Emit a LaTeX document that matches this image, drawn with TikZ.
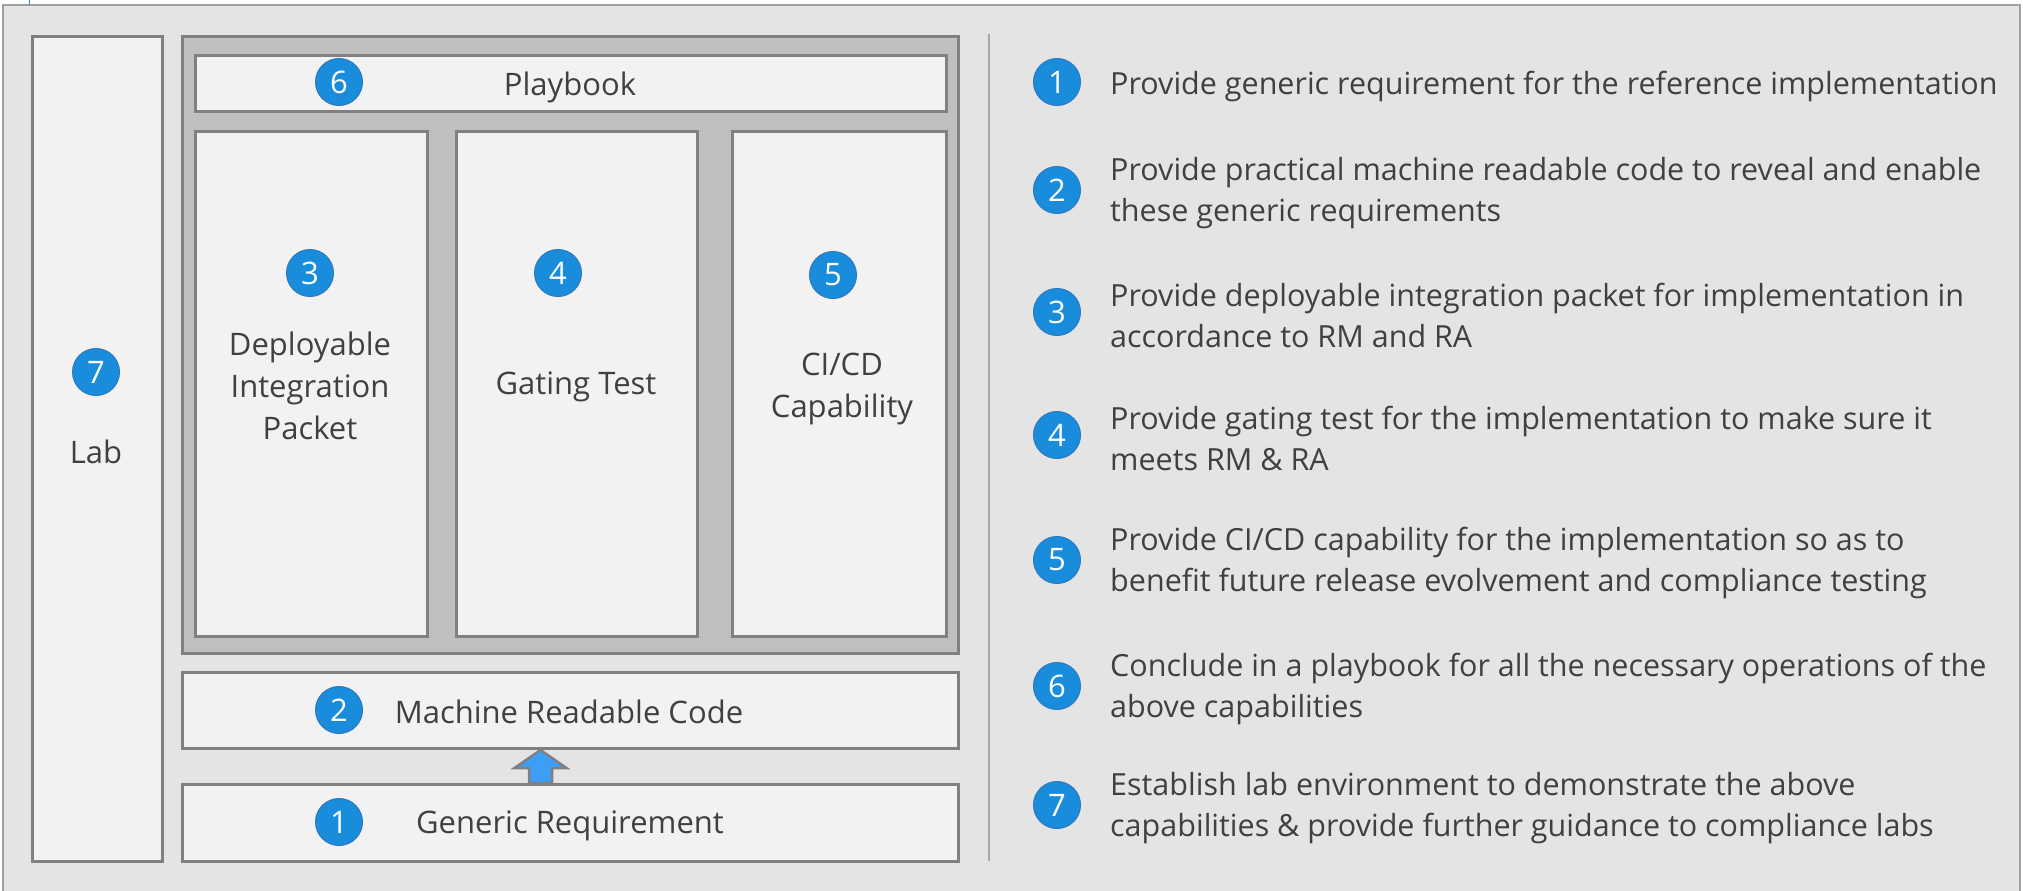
\documentclass[tikz,border=0pt]{standalone}
\usepackage{fontspec}
\setmainfont{Open Sans}
\usetikzlibrary{calc}
\definecolor{bgfill}{HTML}{E4E4E4}
\definecolor{bgdraw}{HTML}{A0A0A0}
\definecolor{contfill}{HTML}{BFBFBF}
\definecolor{boxfill}{HTML}{F2F2F2}
\definecolor{boxdraw}{HTML}{808080}
\definecolor{numblue}{HTML}{1A8CDC}
\definecolor{numedge}{HTML}{2F78BE}
\definecolor{txt}{HTML}{404040}
\definecolor{arrowblue}{HTML}{3D9EF5}
\definecolor{divline}{HTML}{A6A6A6}
\tikzset{
  boxstyle/.style={draw=boxdraw, fill=boxfill, line width=3pt, inner sep=0pt, anchor=north west},
  contstyle/.style={draw=boxdraw, fill=contfill, line width=3pt, inner sep=0pt, anchor=north west},
  numcirc/.style={circle, fill=numblue, draw=numedge, line width=1pt, minimum size=47pt, inner sep=0pt, text=white, font=\fontsize{31}{31}\selectfont},
  lbl/.style={text=txt, align=center, inner sep=0pt, font=\fontsize{31}{42}\selectfont},
  desc/.style={text=txt, align=left, anchor=west, inner sep=0pt, font=\fontsize{30.5}{41}\selectfont},
  upblock/.style={fill=arrowblue, draw=boxdraw, line width=2.5pt, line join=miter}
}
\begin{document}
\begin{tikzpicture}[x=1pt, y=-1pt]
\useasboundingbox (0,0) rectangle (2023,891);
\fill[white] (0,0) rectangle (2023,891);
% outer frame
\draw[fill=bgfill, draw=bgdraw, line width=1.5pt] (3,5) rectangle (2020,900);
\draw[numblue, line width=1pt] (29,0) -- (29,5);
% lab
\node[boxstyle, minimum width=130pt, minimum height=825pt] (lab) at (31,35) {};
% container
\node[contstyle, minimum width=776pt, minimum height=617pt] (cont) at (181,35) {};
\node[boxstyle, minimum width=751pt, minimum height=56pt] (play) at (194,54) {};
\node[boxstyle, minimum width=232pt, minimum height=505pt] (c3) at (194,130) {};
\node[boxstyle, minimum width=241pt, minimum height=505pt] (c4) at (455,130) {};
\node[boxstyle, minimum width=214pt, minimum height=505pt] (c5) at (731,130) {};
% bottom boxes
\node[boxstyle, minimum width=776pt, minimum height=76pt] (mrc) at (181,671) {};
\node[boxstyle, minimum width=776pt, minimum height=77pt] (gen) at (181,783) {};
% arrow from gen to mrc
\draw[upblock]
  ($(gen.north)+(-41.5,0)$) -- ($(mrc.south)+(-41.5,18)$) -- ($(mrc.south)+(-56,18)$)
  -- ($(mrc.south)+(-30,0)$) -- ($(mrc.south)+(-4,18)$) -- ($(mrc.south)+(-18.5,18)$)
  -- ($(gen.north)+(-18.5,0)$) -- cycle;
% divider
\coordinate (dtop) at (989,34);
\coordinate (dbot) at (989,861);
\draw[divline, line width=2pt] (dtop) -- (dbot);
% labels in diagram
\node[numcirc] (n7) at (96,372) {7};
\node[lbl] (tlab) at (96,452) {Lab};
\node[numcirc] (n6) at (339,82) {6};
\node[lbl] (tplay) at (570,87) {Playbook};
\node[numcirc] (n3) at (310,273) {3};
\node[lbl] (t3) at (310,386) {Deployable\\Integration\\Packet};
\node[numcirc] (n4) at (558,273) {4};
\node[lbl] (t4) at (576,387) {Gating Test};
\node[numcirc] (n5) at (833,275) {5};
\node[lbl] (t5) at (842,389) {CI/CD\\Capability};
\node[numcirc] (n2) at (339,710) {2};
\node[lbl] (t2) at (569,712) {Machine Readable Code};
\node[numcirc] (n1) at (339,822) {1};
\node[lbl] (t1) at (570,826) {Generic Requirement};
% right list
\node[numcirc] (r1) at (1057,82) {1};
\node[desc] (d1) at (1110,86) {Provide generic requirement for the reference implementation};
\node[numcirc] (r2) at (1057,190) {2};
\node[desc] (d2) at (1110,193) {Provide practical machine readable code to reveal and enable\\these generic requirements};
\node[numcirc] (r3) at (1057,312) {3};
\node[desc] (d3) at (1110,315) {Provide deployable integration packet for implementation in\\accordance to RM and RA};
\node[numcirc] (r4) at (1057,435) {4};
\node[desc] (d4) at (1110,438) {Provide gating test for the implementation to make sure it\\meets RM \& RA};
\node[numcirc] (r5) at (1057,560) {5};
\node[desc] (d5) at (1110,563) {Provide CI/CD capability for the implementation so as to\\benefit future release evolvement and compliance testing};
\node[numcirc] (r6) at (1057,686) {6};
\node[desc] (d6) at (1110,689) {Conclude in a playbook for all the necessary operations of the\\above capabilities};
\node[numcirc] (r7) at (1057,805) {7};
\node[desc] (d7) at (1110,808) {Establish lab environment to demonstrate the above\\capabilities \& provide further guidance to compliance labs};
\end{tikzpicture}
\end{document}
